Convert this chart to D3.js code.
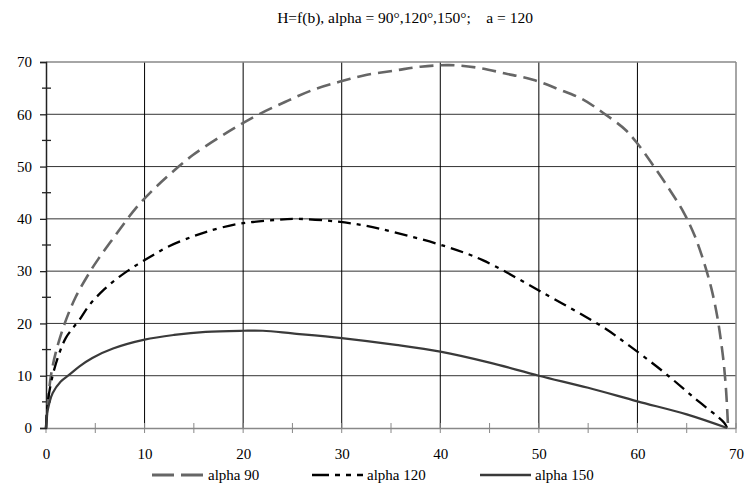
<!DOCTYPE html>
<html>
<head>
<meta charset="utf-8">
<script src="https://cdn.jsdelivr.net/npm/d3@7"></script>
<style>
  body { margin: 0; background: #fff; }
  text { font-family: "Liberation Serif", "Times New Roman", serif; }
</style>
</head>
<body>
<script>
// values
const b90 = [0, 0.2, 0.5, 1.0, 1.9, 3.0, 4.5, 5.3, 7.1, 9.1, 11, 12.85, 14.9, 17.6, 19.6, 21.6, 24.3, 27, 29.75, 32.45, 35.5, 38, 40.9, 43.8, 46.6, 49.4, 52, 54.4, 56.5, 58.8, 60, 61.9, 63.4, 64.7, 65.8, 66.7, 67.5, 68.1, 68.45, 68.75, 69.0, 69.2];
const h90 = [0, 5, 10, 14.5, 20, 25, 30, 32.3, 37.0, 42.0, 45.8, 49, 52.2, 55.6, 57.9, 60, 62.4, 64.6, 66.2, 67.5, 68.4, 69.1, 69.4, 68.9, 67.8, 66.6, 64.8, 62.9, 60.3, 57.0, 54.4, 49.4, 45.2, 41.2, 36.8, 32, 26.7, 21.3, 17, 12.5, 7.0, 0];

const b120 = [0, 0.17, 0.67, 1.35, 2.0, 2.8, 3.4, 4.4, 5.9, 7.5, 9.3, 10.8, 12.3, 14.7, 16.4, 19.1, 21, 23.3, 25.5, 29.4, 32.1, 35.2, 40.6, 44.3, 50, 56.5, 59.2, 62.6, 65.8, 68.8, 69.1];
const h120 = [0, 4.8, 10, 14.3, 17.2, 19.3, 20.7, 23.5, 26.5, 29.0, 31.3, 33.0, 34.6, 36.5, 37.6, 38.9, 39.4, 39.8, 40, 39.5, 38.8, 37.5, 34.7, 32.1, 26.3, 19.3, 15.7, 10.8, 5.7, 1, 0];

const b150 = [0, 0.1, 0.34, 0.68, 1.5, 2.37, 3.4, 4.7, 6.8, 10, 13, 16.2, 20, 22, 25, 30, 35.5, 40, 45, 50, 55, 60, 65, 69.1];
const h150 = [0, 2.5, 4.8, 6.7, 8.9, 10.2, 11.8, 13.4, 15.2, 16.9, 17.8, 18.4, 18.6, 18.6, 18.1, 17.2, 15.9, 14.6, 12.5, 10, 7.7, 5.1, 2.6, 0];

const seriesNames = ['alpha 90', 'alpha 120', 'alpha 150'];
const xTicks = [0, 10, 20, 30, 40, 50, 60, 70];
const yTicks = [0, 10, 20, 30, 40, 50, 60, 70];
const minorTicks = [5, 15, 25, 35, 45, 55, 65];
const titleText = 'H=f(b), alpha = 90°,120°,150°;    a = 120';

const W = 749, H = 497;
const m = { left: 46, right: 13, top: 62, bottom: 69 };
const serif = '"Liberation Serif", "Times New Roman", serif';

const svg = d3.select('body').append('svg').attr('width', W).attr('height', H);

const x = d3.scaleLinear().domain([0, 70]).range([m.left, W - m.right]);
const y = d3.scaleLinear().domain([0, 70]).range([H - m.bottom, m.top]);

svg.append('text')
  .attr('x', 405).attr('y', 23)
  .attr('text-anchor', 'middle')
  .attr('font-family', serif)
  .attr('font-size', 15.5)
  .style('white-space', 'pre')
  .text(titleText);

// grid
svg.append('g').selectAll('line').data(yTicks.slice(1, -1)).enter().append('line')
  .attr('x1', x(0)).attr('x2', x(70))
  .attr('y1', d => y(d)).attr('y2', d => y(d))
  .attr('stroke', '#333').attr('stroke-width', 1);
svg.append('g').selectAll('line').data(xTicks.slice(1, -1)).enter().append('line')
  .attr('y1', y(0)).attr('y2', y(70))
  .attr('x1', d => x(d)).attr('x2', d => x(d))
  .attr('stroke', '#000').attr('stroke-width', 1);

// frame: top and right in grey
svg.append('line').attr('x1', x(0)).attr('x2', x(70)).attr('y1', y(70)).attr('y2', y(70))
  .attr('stroke', '#888').attr('stroke-width', 1.5);
svg.append('line').attr('x1', x(70)).attr('x2', x(70)).attr('y1', y(0)).attr('y2', y(70))
  .attr('stroke', '#888').attr('stroke-width', 1.5);

// x axis
const xAxis = svg.append('g').attr('transform', `translate(0,${y(0)})`)
  .call(d3.axisBottom(x).tickValues(xTicks).tickSize(0).tickPadding(20).tickFormat(d3.format('d')));
xAxis.attr('font-family', serif);
xAxis.select('.domain').attr('stroke', '#888').attr('stroke-width', 1.5);
xAxis.selectAll('text').attr('font-size', 15).attr('fill', '#000');
svg.append('g').selectAll('line').data(xTicks.concat(minorTicks)).enter().append('line')
  .attr('x1', d => x(d)).attr('x2', d => x(d))
  .attr('y1', y(0) - 5).attr('y2', y(0) + 5)
  .attr('stroke', '#888');

// y axis
const yAxis = svg.append('g').attr('transform', `translate(${x(0)},0)`)
  .call(d3.axisLeft(y).tickValues(yTicks).tickSize(6).tickPadding(8).tickFormat(d3.format('d')));
yAxis.attr('font-family', serif);
yAxis.select('.domain').attr('stroke', '#222').attr('stroke-width', 1.5);
yAxis.selectAll('.tick line').attr('stroke', '#222').attr('stroke-width', 1.3);
yAxis.selectAll('text').attr('font-size', 15).attr('fill', '#000');
svg.append('g').selectAll('line').data(minorTicks).enter().append('line')
  .attr('y1', d => y(d)).attr('y2', d => y(d))
  .attr('x1', x(0) - 4).attr('x2', x(0) + 5)
  .attr('stroke', '#222').attr('stroke-width', 1.3);

// curves
const styles = [
  { color: '#666', width: 2.6, dash: '14,7' },
  { color: '#000', width: 2.3, dash: '13,6,4,6' },
  { color: '#3a3a3a', width: 2.2, dash: null }
];
const data = [
  b90.map((v, i) => [v, h90[i]]),
  b120.map((v, i) => [v, h120[i]]),
  b150.map((v, i) => [v, h150[i]])
];
const line = d3.line().x(d => x(d[0])).y(d => y(d[1])).curve(d3.curveCatmullRom.alpha(0.5));

svg.append('g').selectAll('path').data(data).enter().append('path')
  .attr('d', line)
  .attr('fill', 'none')
  .attr('stroke', (d, i) => styles[i].color)
  .attr('stroke-width', (d, i) => styles[i].width)
  .attr('stroke-dasharray', (d, i) => styles[i].dash);

// legend
const legendX = [152, 312, 480];
const lg = svg.append('g').selectAll('g').data(seriesNames).enter().append('g')
  .attr('transform', (d, i) => `translate(${legendX[i]},475)`);
lg.append('line')
  .attr('x1', 0).attr('x2', (d, i) => i === 0 ? 52 : 51)
  .attr('y1', 0).attr('y2', 0)
  .attr('stroke', (d, i) => styles[i].color)
  .attr('stroke-width', (d, i) => styles[i].width + 0.4)
  .attr('stroke-dasharray', (d, i) => i === 0 ? '22,7' : (i === 1 ? '17,6,5,6,5,6' : null));
lg.append('text')
  .attr('x', (d, i) => i === 0 ? 56 : 55).attr('y', 5)
  .attr('font-family', serif)
  .attr('font-size', 15)
  .text(d => d);
</script>
</body>
</html>
